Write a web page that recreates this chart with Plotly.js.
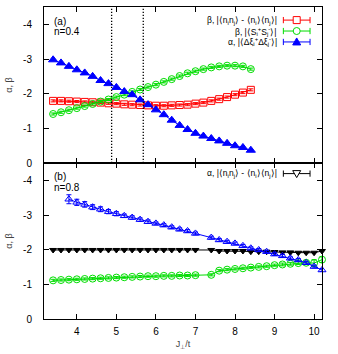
<!DOCTYPE html>
<html>
<head>
<meta charset="utf-8">
<script src="https://cdn.plot.ly/plotly-3.0.1.min.js"></script>
<style>
  html, body { margin: 0; padding: 0; background: #fff; }
  #chart { width: 338px; height: 354px; }
</style>
</head>
<body>
<div id="chart"></div>
<script>
// panel (a), n=0.4
var xTop = [3.4, 3.6, 3.8, 4.0, 4.2, 4.4, 4.6, 4.8, 5.0, 5.2, 5.4, 5.6, 5.8,
            6.0, 6.2, 6.4, 6.6, 6.8, 7.0, 7.2, 7.4, 7.6, 7.8, 8.0, 8.2, 8.4];
var betaDensTop = [-1.80, -1.80, -1.79, -1.78, -1.77, -1.76, -1.75, -1.73, -1.72, -1.70, -1.69, -1.68, -1.67,
                   -1.66, -1.66, -1.67, -1.68, -1.69, -1.72, -1.75, -1.80, -1.85, -1.91, -1.98, -2.04, -2.12];
var betaSpinTop = [-1.42, -1.47, -1.53, -1.59, -1.65, -1.71, -1.78, -1.84, -1.91, -1.98, -2.06, -2.13, -2.20,
                   -2.27, -2.35, -2.43, -2.52, -2.60, -2.66, -2.72, -2.77, -2.80, -2.82, -2.82, -2.80, -2.72];
var alphaTop = [-2.99, -2.90, -2.80, -2.70, -2.61, -2.51, -2.39, -2.30, -2.19, -2.07, -1.98, -1.83, -1.69,
                -1.54, -1.40, -1.24, -1.09, -0.97, -0.86, -0.78, -0.71, -0.64, -0.57, -0.50, -0.45, -0.37];
var transitions = [4.88, 5.68];

// panel (b), n=0.8
var xBot = [3.4, 3.6, 3.8, 4.0, 4.2, 4.4, 4.6, 4.8, 5.0, 5.2, 5.4, 5.6, 5.8, 6.0, 6.2, 6.4, 6.6, 6.8, 7.0,
            7.4, 7.6, 7.8, 8.0, 8.2, 8.4, 8.6, 8.8, 9.0, 9.2, 9.4, 9.6, 9.8, 10.0, 10.2];
var alphaDensBot = [-2.00, -2.00, -2.00, -2.00, -2.00, -2.00, -2.00, -2.00, -2.00, -2.00, -2.00, -2.00, -2.00,
                    -2.00, -2.00, -2.00, -2.00, -2.00, -2.00,
                    -2.00, -1.97, -1.97, -1.97, -1.97, -1.95, -1.95, -1.95, -1.94, -1.93, -1.93, -1.92, -1.92, -1.92, -1.97];
var betaSpinBot = [-1.12, -1.13, -1.14, -1.15, -1.16, -1.17, -1.18, -1.19, -1.20, -1.21, -1.22, -1.23, -1.24,
                   -1.24, -1.25, -1.25, -1.26, -1.26, -1.27,
                   -1.28, -1.40, -1.43, -1.45, -1.47, -1.49, -1.51, -1.53, -1.56, -1.58, -1.60, -1.62, -1.63, -1.62, -1.72];
var spinErrBot = [0.03, 0.03, 0.03, 0.03, 0.03, 0.03, 0.03, 0.03, 0.03, 0.03, 0.03, 0.03, 0.03,
                  0.03, 0.03, 0.03, 0.03, 0.03, 0.03,
                  0.03, 0.03, 0.03, 0.03, 0.03, 0.03, 0.03, 0.03, 0.03, 0.04, 0.04, 0.04, 0.05, 0.10, 0.08];
var xAlphaBot = [3.8, 4.0, 4.2, 4.4, 4.6, 4.8, 5.0, 5.2, 5.4, 5.6, 5.8, 6.0, 6.2, 6.4, 6.6, 6.8, 7.0,
                 7.4, 7.6, 7.8, 8.0, 8.2, 8.4, 8.6, 8.8, 9.0, 9.2, 9.4, 9.6, 9.8, 10.0, 10.2];
var alphaSpinBot = [-3.47, -3.38, -3.32, -3.24, -3.18, -3.11, -3.05, -2.99, -2.94, -2.88, -2.82, -2.77, -2.72,
                    -2.66, -2.60, -2.55, -2.48,
                    -2.36, -2.29, -2.24, -2.19, -2.12, -2.05, -2.00, -1.95, -1.88, -1.83, -1.76, -1.71, -1.63, -1.52, -1.42];
var alphaErrBot = [0.13, 0.09, 0.08, 0.07, 0.07, 0.06, 0.06, 0.05, 0.05, 0.05, 0.05, 0.04, 0.04,
                   0.04, 0.04, 0.04, 0.04, 0.04, 0.04, 0.04, 0.04, 0.04, 0.04, 0.04, 0.04, 0.04, 0.04,
                   0.04, 0.04, 0.04, 0.04, 0.04];

var yTicks = [0, -1, -2, -3, -4];
var yTickText = ['0', '-1', '-2', '-3', '-4'];
var xTicks = [4, 5, 6, 7, 8, 9, 10];

var legendTop = [
  {text: 'β, |⟨n<sub>i</sub>n<sub>j</sub>⟩ - ⟨n<sub>i</sub>⟩⟨n<sub>j</sub>⟩|', color: '#ff0000', shape: 'square'},
  {text: 'β, |⟨S<sub>i</sub><sup>+</sup>S<sub>j</sub><sup>-</sup>⟩|', color: '#00dd00', shape: 'circle'},
  {text: 'α, |⟨Δξ<sub>i</sub><sup>+</sup>Δξ<sub>j</sub><sup>-</sup>⟩|', color: '#0000ff', shape: 'up'}
];
var legendBot = [
  {text: 'α, |⟨n<sub>i</sub>n<sub>j</sub>⟩ - ⟨n<sub>i</sub>⟩⟨n<sub>j</sub>⟩|', color: '#000000', shape: 'down'}
];

var RED = '#ff0000', GREEN = '#00dd00', BLUE = '#0000ff';

function series(x, y, color, symbol, size, xa, ya, err) {
  var t = {
    x: x, y: y, xaxis: xa, yaxis: ya, type: 'scatter', mode: 'lines+markers',
    line: {color: color, width: 1},
    marker: {symbol: symbol, size: size, color: color, line: {color: color, width: 1}},
    cliponaxis: false,
    showlegend: false
  };
  if (err) {
    t.error_y = {type: 'data', array: err, color: color, thickness: 1, width: 2.5};
  }
  return t;
}

var data = [
  series(xTop, betaDensTop, RED, 'square-open', 7, 'x', 'y', xTop.map(function () { return 0.03; })),
  series(xTop, betaSpinTop, GREEN, 'circle-open', 7, 'x', 'y', xTop.map(function () { return 0.03; })),
  series(xTop, alphaTop, BLUE, 'triangle-up', 8, 'x', 'y'),
  series(xBot, alphaDensBot, '#000000', 'triangle-down', 6, 'x2', 'y2'),
  series(xBot, betaSpinBot, GREEN, 'circle-open', 7, 'x2', 'y2', spinErrBot),
  series(xAlphaBot, alphaSpinBot, BLUE, 'triangle-up-open', 7, 'x2', 'y2', alphaErrBot)
];

var axisFont = {family: 'Liberation Sans, Arial, sans-serif', size: 10, color: '#000'};

function xAxis(anchor, labels) {
  return {
    anchor: anchor, range: [3.17, 10.2], tickvals: xTicks, ticks: 'inside', ticklen: 5,
    showline: true, mirror: 'ticks', linecolor: '#000', linewidth: 1, tickcolor: '#000',
    showgrid: false, zeroline: false, showticklabels: labels, tickfont: axisFont,
    ticklabelstandoff: 3
  };
}
function yAxis(anchor, domain) {
  return {
    anchor: anchor, domain: domain, range: [0, -4.52], tickvals: yTicks, ticktext: yTickText,
    ticks: 'inside', ticklen: 5, showline: true, mirror: 'ticks', linecolor: '#000', linewidth: 1,
    tickcolor: '#000', showgrid: false, zeroline: false, tickfont: axisFont, ticklabelstandoff: 9,
    title: {text: 'α, β', font: {family: 'Liberation Sans, Arial, sans-serif', size: 9}, standoff: 8}
  };
}

var shapes = transitions.map(function (xv) {
  return {type: 'line', xref: 'x', yref: 'y domain', x0: xv, x1: xv, y0: 0, y1: 1,
          line: {color: '#000', width: 1.3, dash: '1.3px,1.7px'}};
});
var annotations = [];
var txtFont = {family: 'Liberation Sans, Arial, sans-serif', size: 10, color: '#000'};
annotations.push({xref: 'paper', yref: 'paper', x: 0.03, y: 0.955, text: '(a)', showarrow: false,
                  xanchor: 'left', yanchor: 'middle', font: txtFont});
annotations.push({xref: 'paper', yref: 'paper', x: 0.03, y: 0.92, text: 'n=0.4', showarrow: false,
                  xanchor: 'left', yanchor: 'middle', font: txtFont});
annotations.push({xref: 'paper', yref: 'paper', x: 0.03, y: 0.458, text: '(b)', showarrow: false,
                  xanchor: 'left', yanchor: 'middle', font: txtFont});
annotations.push({xref: 'paper', yref: 'paper', x: 0.03, y: 0.423, text: 'n=0.8', showarrow: false,
                  xanchor: 'left', yanchor: 'middle', font: txtFont});

// hand-made legend: text right-aligned, sample on the right
function legendRow(entry, yp) {
  var xa = 0.861, xb = 0.957, xm = (xa + xb) / 2, c = entry.color;
  annotations.push({xref: 'paper', yref: 'paper', x: 0.845, y: yp, text: entry.text, showarrow: false,
                    xanchor: 'right', yanchor: 'middle',
                    font: {family: 'Liberation Sans, Arial, sans-serif', size: 8.5, color: '#000'}});
  shapes.push({type: 'line', xref: 'paper', yref: 'paper', x0: xa, x1: xb, y0: yp, y1: yp,
               line: {color: c, width: 1}});
  [xa, xb].forEach(function (xe) {
    shapes.push({type: 'line', xref: 'paper', yref: 'paper', x0: xe, x1: xe, y0: yp - 0.01, y1: yp + 0.01,
                 line: {color: c, width: 1}});
  });
  var m = {xref: 'paper', yref: 'paper', xsizemode: 'pixel', ysizemode: 'pixel', xanchor: xm, yanchor: yp,
           line: {color: c, width: 1}, fillcolor: 'white'};
  if (entry.shape === 'square') { m.type = 'rect'; m.x0 = -3.5; m.x1 = 3.5; m.y0 = -3.5; m.y1 = 3.5; }
  else if (entry.shape === 'circle') { m.type = 'circle'; m.x0 = -3.5; m.x1 = 3.5; m.y0 = -3.5; m.y1 = 3.5; }
  else if (entry.shape === 'up') { m.type = 'path'; m.path = 'M -4,-3 L 4,-3 L 0,4 Z'; m.fillcolor = c; }
  else { m.type = 'path'; m.path = 'M -4,3 L 4,3 L 0,-4 Z'; }
  shapes.push(m);
}
legendTop.forEach(function (e, i) { legendRow(e, 0.958 - i * 0.035); });
legendBot.forEach(function (e, i) { legendRow(e, 0.466 - i * 0.035); });

var layout = {
  width: 338, height: 354,
  margin: {l: 44, r: 16, t: 7, b: 35},
  paper_bgcolor: 'white', plot_bgcolor: 'white',
  showlegend: false,
  xaxis: xAxis('y', false),
  yaxis: yAxis('x', [0.5, 1]),
  xaxis2: Object.assign(xAxis('y2', true), {
    title: {text: 'J<sub>⊥</sub>/t', font: {family: 'Liberation Sans, Arial, sans-serif', size: 9}, standoff: 4}
  }),
  yaxis2: yAxis('x2', [0, 0.5]),
  shapes: shapes,
  annotations: annotations
};

Plotly.newPlot('chart', data, layout, {displayModeBar: false, staticPlot: true});
</script>
</body>
</html>
